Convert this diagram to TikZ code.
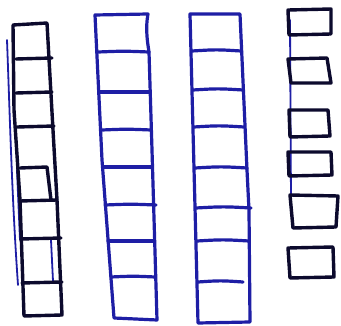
\documentclass[tikz,border=0pt]{standalone}
\definecolor{inkblue}{RGB}{30,30,165}
\definecolor{inkdark}{RGB}{12,10,45}
\tikzset{
 bluestroke/.style={draw=inkblue, line width=3.2pt, line join=round, line cap=round},
 darkstroke/.style={draw=inkdark, line width=3.4pt, line join=round, line cap=round},
 thinblue/.style={draw=inkblue, line width=1.8pt, line join=round, line cap=round},
}
\begin{document}
\begin{tikzpicture}[x=1pt,y=-1pt]
\fill[white] (0,0) rectangle (341,326);
\useasboundingbox (0,0) rectangle (341,326);

% ---------- column 1 (dark ink with blue traces) ----------
\draw[thinblue] (7,40) .. controls (10,120) and (12,200) .. (18,285);
\draw[thinblue] (51,240) -- (53,281);
\draw[thinblue] (17,170) -- (20,240);
\draw[darkstroke] (13,25) -- (47,23) -- (53,130) -- (57,200) -- (62,315) -- (24,316) -- (20,200) -- (14,110) -- cycle;
\foreach \y/\a/\b in {59/16/52, 93/16/52, 127/17/54, 201/20/57, 239/21/61, 283/22/62}
  \draw[darkstroke] (\a,\y) -- (\b,\y-1);
\draw[darkstroke] (20,168) -- (47,167) -- (51,200);

% ---------- column 2 ----------
\draw[bluestroke] (95,15) -- (148,14) .. controls (145,30) and (148,45) .. (149,52)
  -- (152,150) -- (157,320) -- (114,318) -- (102,160) -- cycle;
\foreach \y/\a/\b in {52/98/149, 92/100/150, 130/102/151, 167/103/152, 205/105/156, 241/108/154, 277/111/155}
  \draw[bluestroke] (\a,\y) .. controls ({(\a+\b)/2},\y-1) .. (\b,\y);

% ---------- column 3 ----------
\draw[bluestroke] (190,14) -- (240,14) -- (247,170) -- (249,210) -- (250,322) -- (198,323) -- cycle;
\foreach \y/\a/\b in {51/192/241, 90/193/243, 127/194/244, 168/195/247, 208/196/251, 241/197/249, 282/198/243}
  \draw[bluestroke] (\a,\y) .. controls ({(\a+\b)/2},\y-1.5) .. (\b,\y);

% ---------- column 4: single squares ----------
\draw[thinblue] (290,20) -- (291,200);
\draw[darkstroke] (288,10) -- (331,9) -- (331,34) -- (289,35) -- cycle;
\draw[darkstroke] (288,59) -- (327,58) -- (331,83) -- (291,83) -- cycle;
\draw[darkstroke] (289,110) -- (328,110) -- (330,136) -- (290,137) -- cycle;
\draw[darkstroke] (288,152) -- (331,152) -- (332,175) -- (289,176) -- cycle;
\draw[darkstroke] (290,195) -- (338,196) -- (336,227) -- (293,228) -- cycle;
\draw[darkstroke] (288,248) -- (333,247) -- (334,277) -- (290,278) -- cycle;
\end{tikzpicture}
\end{document}
